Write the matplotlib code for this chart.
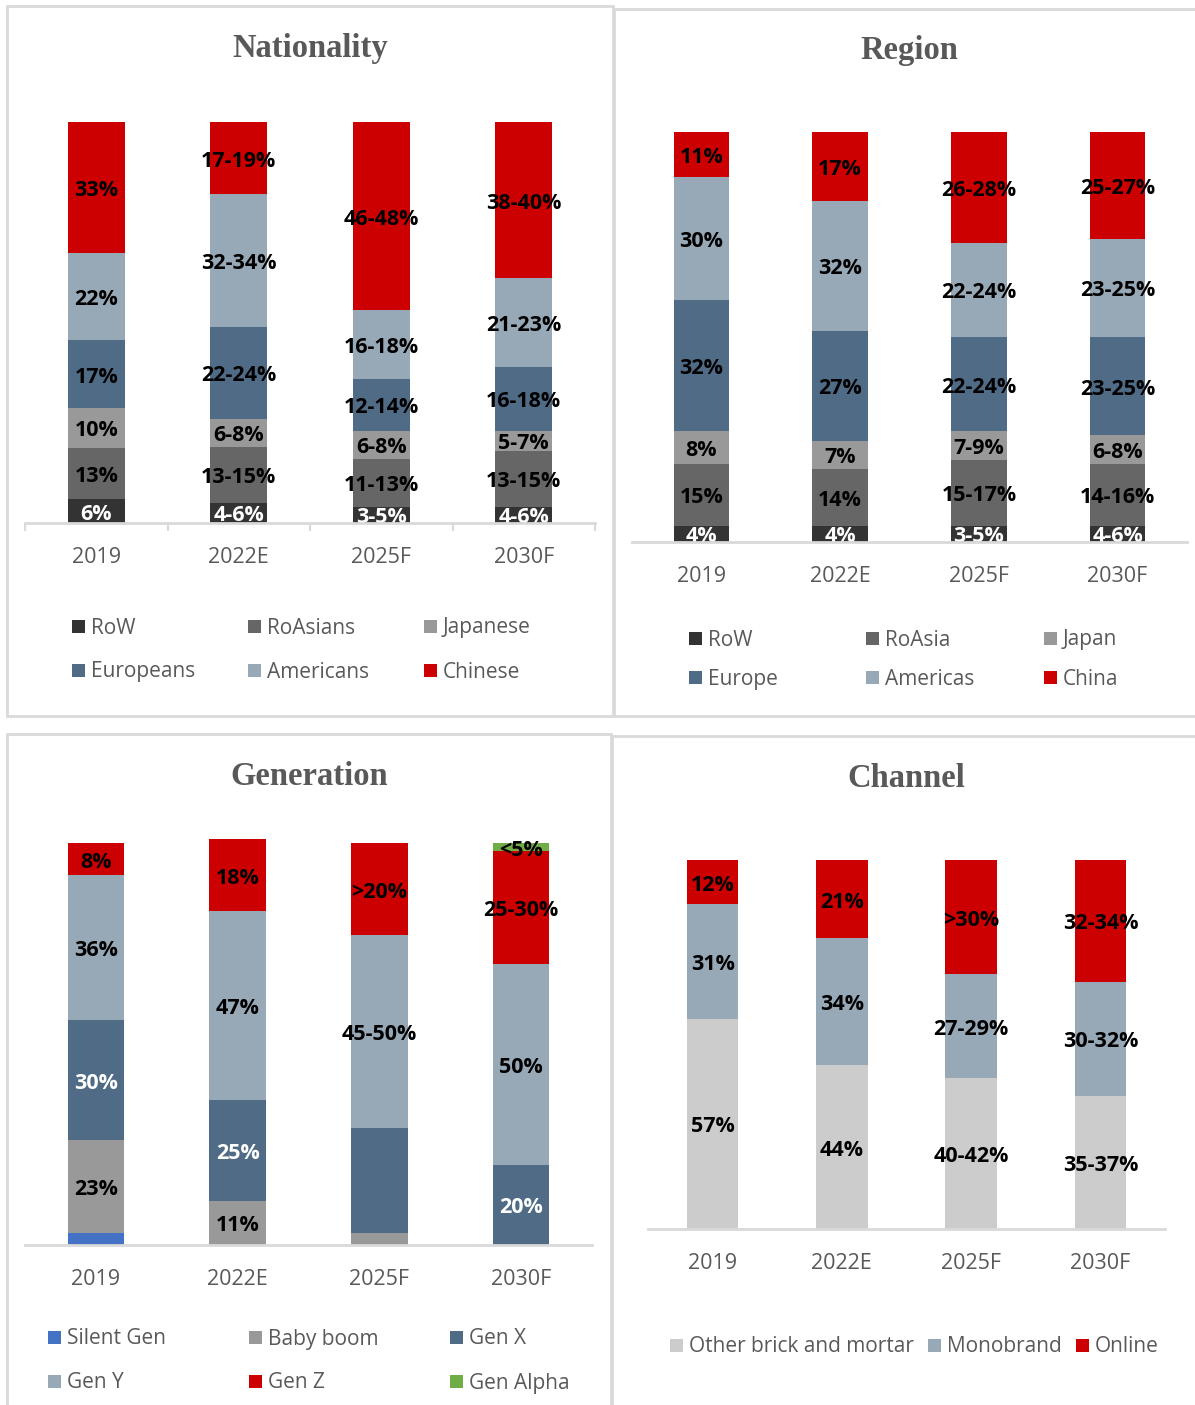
import matplotlib
matplotlib.use("Agg")
import matplotlib.pyplot as plt
from matplotlib.patches import Rectangle
from matplotlib.transforms import offset_copy
import numpy as np

W, H = 1195, 1405
DPI = 100

years = ["2019", "2022E", "2025F", "2030F"]

# ---- Nationality (bottom -> top) ----
nat_names = ["RoW", "RoAsians", "Japanese", "Europeans", "Americans", "Chinese"]
nat_row = [6, 5, 4, 4]
nat_roasians = [13, 14, 12, 14]
nat_japanese = [10, 7, 7, 5]
nat_europeans = [17, 23, 13, 16]
nat_americans = [22, 33, 17, 22]
nat_chinese = [33, 18, 47, 39]
nat_row_lbl = ["6%", "4-6%", "3-5%", "4-6%"]
nat_roasians_lbl = ["13%", "13-15%", "11-13%", "13-15%"]
nat_japanese_lbl = ["10%", "6-8%", "6-8%", "5-7%"]
nat_europeans_lbl = ["17%", "22-24%", "12-14%", "16-18%"]
nat_americans_lbl = ["22%", "32-34%", "16-18%", "21-23%"]
nat_chinese_lbl = ["33%", "17-19%", "46-48%", "38-40%"]

# ---- Region (bottom -> top) ----
reg_names = ["RoW", "RoAsia", "Japan", "Europe", "Americas", "China"]
reg_row = [4, 4, 4, 4]
reg_roasia = [15, 14, 16, 15]
reg_japan = [8, 7, 7, 7]
reg_europe = [32, 27, 23, 24]
reg_americas = [30, 32, 23, 24]
reg_china = [11, 17, 27, 26]
reg_row_lbl = ["4%", "4%", "3-5%", "4-6%"]
reg_roasia_lbl = ["15%", "14%", "15-17%", "14-16%"]
reg_japan_lbl = ["8%", "7%", "7-9%", "6-8%"]
reg_europe_lbl = ["32%", "27%", "22-24%", "23-25%"]
reg_americas_lbl = ["30%", "32%", "22-24%", "23-25%"]
reg_china_lbl = ["11%", "17%", "26-28%", "25-27%"]

# ---- Generation (bottom -> top) ----
gen_names = ["Silent Gen", "Baby boom", "Gen X", "Gen Y", "Gen Z", "Gen Alpha"]
gen_silent = [3, 0, 0, 0]
gen_boomer = [23, 11, 3, 0]
gen_x = [30, 25, 26, 20]
gen_y = [36, 47, 48, 50]
gen_z = [8, 18, 23, 28]
gen_alpha = [0, 0, 0, 2]
gen_silent_lbl = ["", "", "", ""]
gen_boomer_lbl = ["23%", "11%", "", ""]
gen_x_lbl = ["30%", "25%", "", "20%"]
gen_y_lbl = ["36%", "47%", "45-50%", "50%"]
gen_z_lbl = ["8%", "18%", ">20%", "25-30%"]
gen_alpha_lbl = ["", "", "", "<5%"]

# ---- Channel (bottom -> top) ----
ch_names = ["Other brick and mortar", "Monobrand", "Online"]
ch_other = [57, 44, 41, 36]
ch_mono = [31, 34, 28, 31]
ch_online = [12, 21, 31, 33]
ch_other_lbl = ["57%", "44%", "40-42%", "35-37%"]
ch_mono_lbl = ["31%", "34%", "27-29%", "30-32%"]
ch_online_lbl = ["12%", "21%", ">30%", "32-34%"]

C_ROW = "#333333"
C_ROASIA = "#666666"
C_JAPAN = "#999999"
C_EUROPE = "#506b86"
C_AMERICAS = "#97a8b6"
C_CHINA = "#cc0000"
C_SILENT = "#4472c4"
C_ALPHA = "#70ad47"
C_OTHER = "#cccccc"

TXT_GREY = "#595959"
LINE_GREY = "#d9d9d9"
LABEL_FONT = "Open Sans"

fig = plt.figure(figsize=(W / DPI, H / DPI), dpi=DPI)
fig.patch.set_facecolor("white")


def fx(x):
    return x / W


def fy(y):
    return 1 - y / H


# panel frames
for (x0, y0, x1, y1) in [(7, 6, 613, 716), (614, 9, 1199, 716),
                         (7, 734, 611, 1409), (612, 736, 1199, 1409)]:
    fig.patches.append(Rectangle((fx(x0), fy(y1)), fx(x1) - fx(x0), fy(y0) - fy(y1),
                                 transform=fig.transFigure, fill=False,
                                 edgecolor=LINE_GREY, linewidth=2))


def panel(xl, xr, y0, y100, series, labels, colors, white_idx, normalize,
          title, title_xy, boundary_ticks=False):
    top_px = y100 - 30
    ymax = 100 * (y0 - top_px) / (y0 - y100)
    ax = fig.add_axes([fx(xl), fy(y0), fx(xr) - fx(xl), fy(top_px) - fy(y0)])
    ax.set_xlim(-0.5, 3.5)
    ax.set_ylim(0, ymax)
    lbl_trans = offset_copy(ax.transData, fig=fig, x=0, y=-3, units="dots")
    data = np.array(series, dtype=float)
    if normalize:
        data = data / data.sum(axis=0) * 100
    x = np.arange(len(years))
    bottom = np.zeros(len(years))
    for i, (vals, lbls, col) in enumerate(zip(data, labels, colors)):
        ax.bar(x, vals, bottom=bottom, width=0.4, color=col, edgecolor="none", zorder=2)
        for j in range(len(years)):
            if lbls[j]:
                ax.text(x[j], bottom[j] + vals[j] / 2, lbls[j], ha="center", va="center",
                        fontsize=15.5, fontweight="bold", family=LABEL_FONT,
                        color="white" if i in white_idx else "black",
                        transform=lbl_trans, clip_on=True, zorder=3)
        bottom += vals
    for s in ["top", "left", "right"]:
        ax.spines[s].set_visible(False)
    ax.spines["bottom"].set_color(LINE_GREY)
    ax.spines["bottom"].set_linewidth(2)
    ax.spines["bottom"].set_zorder(4)
    ax.set_yticks([])
    ax.set_xticks(x)
    ax.set_xticklabels(years, fontsize=15.5, color=TXT_GREY, family=LABEL_FONT)
    ax.tick_params(axis="x", length=0, pad=17)
    if boundary_ticks:
        ax.set_xticks(np.arange(-0.5, 4.0, 1.0), minor=True)
        ax.tick_params(axis="x", which="minor", length=6, width=1.5, color=LINE_GREY)
    ax.patch.set_alpha(0)
    fig.text(fx(title_xy[0]), fy(title_xy[1] + 3), title, ha="center", va="center",
             fontsize=23.5, fontweight="bold", family="Liberation Serif", color=TXT_GREY)
    return ax


def legend(entries, cols_x, rows_y, per_row):
    for k, (name, col) in enumerate(entries):
        r, c = divmod(k, per_row)
        sx, sy = cols_x[c], rows_y[r]
        fig.patches.append(Rectangle((fx(sx), fy(sy + 7)), 13 / W, 13 / H,
                                     transform=fig.transFigure, facecolor=col,
                                     edgecolor="none"))
        fig.text(fx(sx + 19), fy(sy + 2), name, ha="left", va="center", fontsize=15,
                 family=LABEL_FONT, color=TXT_GREY)


six_cols = [C_ROW, C_ROASIA, C_JAPAN, C_EUROPE, C_AMERICAS, C_CHINA]

panel(25, 595, 523, 122,
      [nat_row, nat_roasians, nat_japanese, nat_europeans, nat_americans, nat_chinese],
      [nat_row_lbl, nat_roasians_lbl, nat_japanese_lbl, nat_europeans_lbl,
       nat_americans_lbl, nat_chinese_lbl],
      six_cols, {0}, True, "Nationality", (310, 45), boundary_ticks=True)
legend(list(zip(nat_names, six_cols)), [72, 248, 424], [626, 670], 3)

panel(632, 1187, 542, 132,
      [reg_row, reg_roasia, reg_japan, reg_europe, reg_americas, reg_china],
      [reg_row_lbl, reg_roasia_lbl, reg_japan_lbl, reg_europe_lbl,
       reg_americas_lbl, reg_china_lbl],
      six_cols, {0}, True, "Region", (909, 48))
legend(list(zip(reg_names, six_cols)), [689, 866, 1044], [638, 677], 3)

gen_cols = [C_SILENT, C_JAPAN, C_EUROPE, C_AMERICAS, C_CHINA, C_ALPHA]
panel(25, 592, 1245, 843,
      [gen_silent, gen_boomer, gen_x, gen_y, gen_z, gen_alpha],
      [gen_silent_lbl, gen_boomer_lbl, gen_x_lbl, gen_y_lbl, gen_z_lbl, gen_alpha_lbl],
      gen_cols, {2}, False, "Generation", (309, 773))
legend(list(zip(gen_names, gen_cols)), [48, 249, 450], [1337, 1381], 3)

ch_cols = [C_OTHER, C_AMERICAS, C_CHINA]
panel(648, 1165, 1229, 860,
      [ch_other, ch_mono, ch_online],
      [ch_other_lbl, ch_mono_lbl, ch_online_lbl],
      ch_cols, set(), True, "Channel", (906, 776))
legend(list(zip(ch_names, ch_cols)), [670, 928, 1076], [1345], 3)

fig.savefig("out.png", dpi=DPI, facecolor="white")
